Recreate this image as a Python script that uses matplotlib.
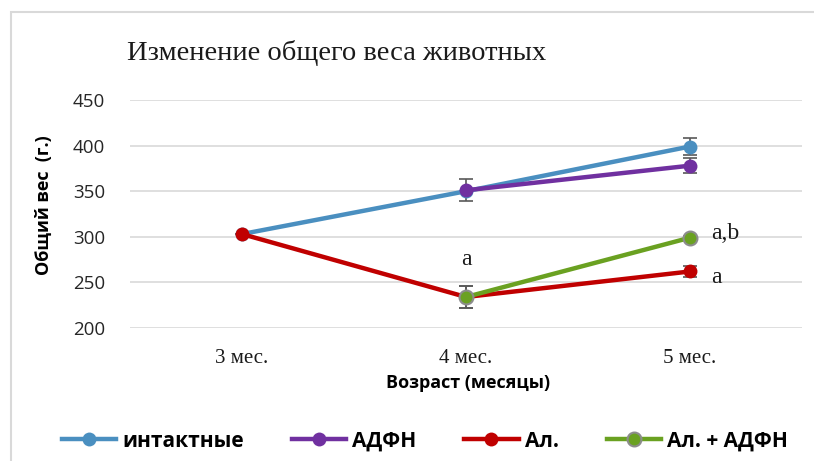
import matplotlib
matplotlib.use("Agg")
import matplotlib.pyplot as plt
from matplotlib.patches import Rectangle

# Data
months = ["3 мес.", "4 мес.", "5 мес."]
intact = [303, 350, 399]
intact_err = [0, 0, 9]
adfn = [None, 351, 378]
adfn_err = [0, 12, 8]
al = [303, 234, 262]
al_err = [0, 12, 6]
al_adfn = [None, 234, 299]
al_adfn_err = [0, 12, 2]

yticks = [200, 250, 300, 350, 400, 450]

BLUE = "#4A8FC0"
PURPLE = "#7030A0"
RED = "#C00000"
GREEN = "#6AA121"
ERR = "#595959"

fig = plt.figure(figsize=(8.14, 4.61), dpi=100)
fig.patch.set_facecolor("white")

# outer chart frame
fig.patches.append(Rectangle((11 / 814, -0.1), 1.2, (461 - 12) / 461 + 0.1,
                             transform=fig.transFigure, fill=False,
                             edgecolor="#D9D9D9", linewidth=1.5))

ax = fig.add_axes([130 / 814, (461 - 328) / 461, 672 / 814, 228 / 461])
ax.set_xlim(-0.5, 2.5)
ax.set_ylim(200, 450)
ax.set_yticks(yticks)
ax.grid(axis="y", color="#D9D9D9", linewidth=1.2)
ax.set_axisbelow(True)
for s in ax.spines.values():
    s.set_visible(False)
ax.tick_params(length=0)
ax.set_xticks(range(len(months)))
ax.set_xticklabels(months, fontfamily="Liberation Serif", fontsize=15,
                   color="#1a1a1a")
ax.tick_params(axis="x", pad=15)
ax.tick_params(axis="y", pad=18)
for lbl in ax.get_yticklabels():
    lbl.set_fontfamily("Open Sans")
    lbl.set_fontsize(13.5)
    lbl.set_color("#262626")


def series(vals, errs, color, label, mec=None):
    xs = [i for i, v in enumerate(vals) if v is not None]
    ys = [vals[i] for i in xs]
    es = [errs[i] for i in xs]
    ax.errorbar(xs, ys, yerr=es, fmt="none", ecolor=ERR, elinewidth=1.2,
                capsize=5, capthick=1.2, zorder=2)
    ax.plot(xs, ys, color=color, linewidth=3.2, marker="o", markersize=10,
            markerfacecolor=color, markeredgecolor=mec or color,
            markeredgewidth=1.5 if mec else 0, label=label, zorder=3)


series(intact, intact_err, BLUE, "интактные")
series(adfn, adfn_err, PURPLE, "АДФН")
series(al, al_err, RED, "Ал.")
series(al_adfn, al_adfn_err, GREEN, "Ал. + АДФН", mec="#8C8C8C")

# significance marks
mark_kw = dict(fontfamily="Liberation Serif", fontsize=17, va="center",
               color="#1a1a1a")
ax.text(1, 275, "a", ha="center", **mark_kw)
ax.text(2.095, 304, "a,b", ha="left", **mark_kw)
ax.text(2.095, 255, "a", ha="left", **mark_kw)

fig.text(337 / 814, 1 - 53 / 461, "Изменение общего веса животных",
         fontfamily="Liberation Serif", fontsize=20.5, ha="center",
         va="center", color="#1a1a1a")

ax.set_ylabel("Общий вес  (г.)", fontfamily="Open Sans", fontweight="bold",
              fontsize=13)
ax.yaxis.set_label_coords(-77 / 672, (328 - 205) / 228)
ax.set_xlabel("Возраст (месяцы)", fontfamily="Open Sans", fontweight="bold",
              fontsize=13)
ax.xaxis.set_label_coords((468 - 130) / 672, -(374 - 328) / 228)

leg = fig.legend(loc="center", bbox_to_anchor=(0.522, 1 - 441 / 461), ncol=4,
                 frameon=False, handlelength=2.6, columnspacing=2.3,
                 handletextpad=0.3,
                 prop={"family": "Open Sans", "weight": "bold", "size": 15})

fig.savefig("out.png", dpi=100, facecolor="white")
